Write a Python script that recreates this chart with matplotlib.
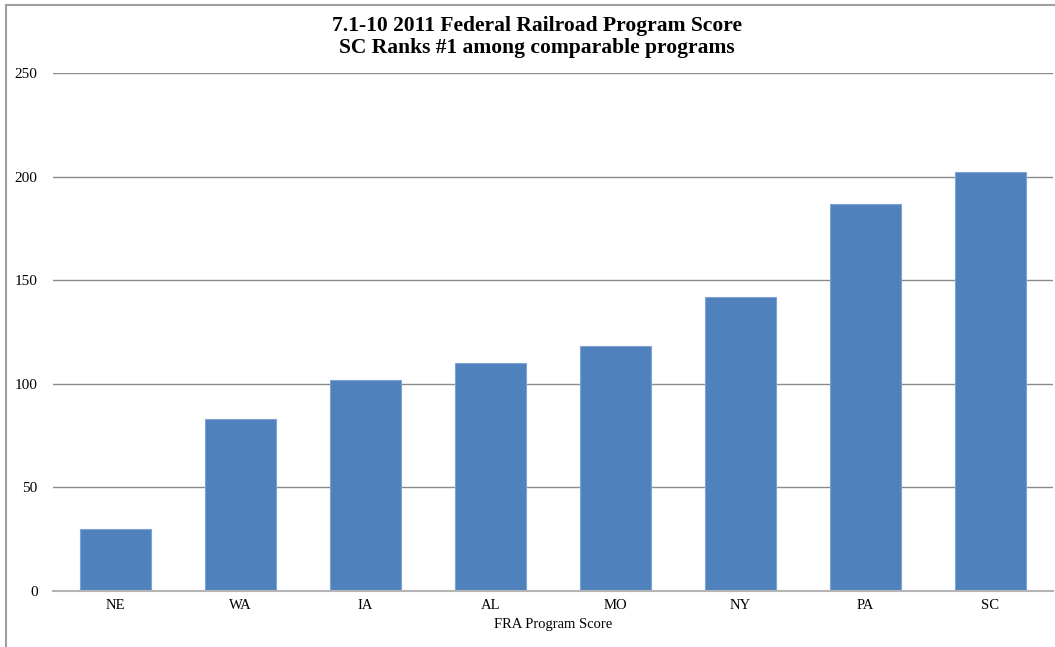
import numpy as np
import matplotlib.pyplot as plt
from matplotlib.patches import Rectangle

states = ['NE', 'WA', 'IA', 'AL', 'MO', 'NY', 'PA', 'SC']
scores = [30, 83, 102, 110, 118, 142, 187, 202]
yticks = [0, 50, 100, 150, 200, 250]

plt.rcParams['font.family'] = ['Liberation Serif', 'DejaVu Serif']

fig = plt.figure(figsize=(10.55, 6.47), dpi=100)
ax = fig.add_axes([0.0502, 0.0866, 0.9478, 0.8006])

x = np.arange(len(states))
ax.bar(x, scores, width=0.57, color='#4F81BD', edgecolor='#7FA3D3', linewidth=0.8, zorder=3)

ax.set_xlim(-0.5, len(states) - 0.5)
ax.set_ylim(0, 250)
ax.set_yticks(yticks)
ax.set_xticks(x)
ax.set_xticklabels(states)
ax.tick_params(axis='y', length=0, pad=11, labelsize=11)
ax.tick_params(axis='x', length=0, pad=6, labelsize=10.5)
ax.grid(axis='y', color='#8c8c8c', linewidth=1, zorder=0)
for s in ['top', 'right', 'left']:
    ax.spines[s].set_visible(False)
ax.spines['bottom'].set_color('#b4b4b4')
ax.spines['bottom'].set_linewidth(1.5)
ax.spines['bottom'].set_zorder(4)

ax.set_xlabel('FRA Program Score', fontsize=10.5, labelpad=4)
fig.text(0.509, 0.943, '7.1-10 2011 Federal Railroad Program Score\nSC Ranks #1 among comparable programs',
         ha='center', va='center', fontsize=15.5, fontweight='bold', linespacing=1.12)

# frame around the chart area
fig.add_artist(Rectangle((6 / 1055, -0.1), 1.2, (647 - 5) / 647 + 0.1, transform=fig.transFigure,
                         fill=False, edgecolor='#a0a0a0', linewidth=1.5))

fig.savefig('out.png', dpi=100)
